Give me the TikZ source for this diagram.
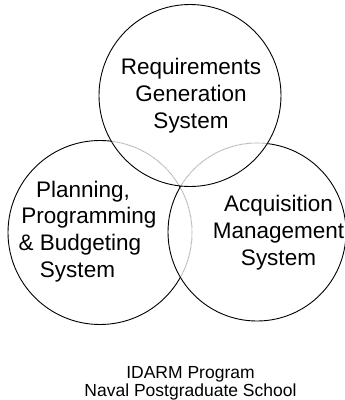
\documentclass[tikz,border=0pt]{standalone}
\usepackage{fontspec}
\setmainfont{Liberation Sans}
\begin{document}
\begin{tikzpicture}[
	x=1pt, y=-1pt,
	sys/.style = {draw, circle, line width=0.9pt, inner sep=0pt},
	hid/.style = {draw=black!30, line width=0.6pt},
	wipe/.style = {draw=white, line width=1.8pt},
	lbl/.style = {align=center, inner sep=0pt, font=\fontsize{22.5}{26.8}\selectfont},
	foot/.style = {align=center, inner sep=0pt, font=\fontsize{17.5}{17.3}\selectfont},
	]
	\useasboundingbox (0,0) rectangle (345,400);
	\coordinate (ppbc) at (100,232.5);
	\coordinate (amsc) at (257,232);
	\coordinate (rgsc) at (190,95.5);
	% left circle, grey where the other two lie over it
	\node[sys, minimum size=184pt] (ppb) at (ppbc) {};
	\begin{scope}
		\clip (rgsc) circle (91pt) (amsc) circle (89pt);
		\draw[wipe] (ppbc) circle (92pt);
		\draw[hid] (ppbc) circle (92pt);
	\end{scope}
	% right circle, grey under the top one
	\node[sys, minimum size=178pt] (ams) at (amsc) {};
	\begin{scope}
		\clip (rgsc) circle (91pt);
		\draw[wipe] (amsc) circle (89pt);
		\draw[hid] (amsc) circle (89pt);
	\end{scope}
	% top circle
	\node[sys, minimum size=182pt] (rgs) at (rgsc) {};
	\node[lbl] (rgstext) at (191,95.8) {Requirements\\Generation\\System};
	\node[lbl] (ppbtext) at (80,231.5) {\hspace*{6pt}Planning,\\\hspace*{18pt}Programming\\\&~Budgeting\hspace*{18pt}\\System\hspace*{5pt}};
	\node[lbl] (amstext) at (278.5,232.7) {Acquisition\\Management\\System};
	\node[foot] (school) at (190.5,383.3) {IDARM Program\\Naval Postgraduate School};
\end{tikzpicture}
\end{document}
